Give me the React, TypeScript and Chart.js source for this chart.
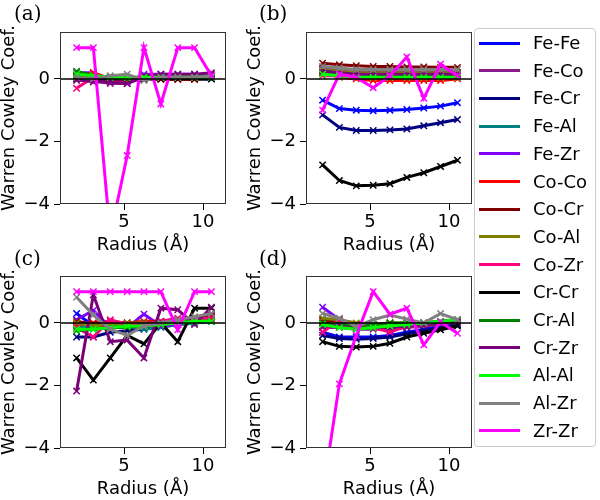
import React, { useEffect, useRef } from 'react';
import { Chart, registerables } from 'chart.js';

Chart.register(...registerables);

// Radii (Å) at which the Warren-Cowley coefficients are evaluated
const radii = [2.0, 3.06, 4.13, 5.2, 6.26, 7.33, 8.4, 9.46, 10.53];

const seriesNames = [
  'Fe-Fe', 'Fe-Co', 'Fe-Cr', 'Fe-Al', 'Fe-Zr',
  'Co-Co', 'Co-Cr', 'Co-Al', 'Co-Zr',
  'Cr-Cr', 'Cr-Al', 'Cr-Zr',
  'Al-Al', 'Al-Zr', 'Zr-Zr',
];

const seriesColors = [
  '#0000ff', '#8b1c8b', '#000080', '#008080', '#7f00ff',
  '#ff0000', '#800000', '#808000', '#ff007f',
  '#000000', '#008000', '#7a007a',
  '#00ff00', '#808080', '#ff00ff',
];

// Panel (a) — rows follow seriesNames order
const panelA: number[][] = [
  [0.1, 0.1, 0.05, 0.0, 0.05, 0.05, 0.05, 0.05, 0.05],
  [-0.05, -0.05, -0.15, -0.15, 0.05, 0.1, 0.1, 0.1, 0.15],
  [0.05, 0.0, 0.0, -0.05, 0.0, 0.0, 0.0, 0.0, 0.0],
  [0.1, 0.05, 0.0, 0.0, 0.0, 0.0, 0.05, 0.05, 0.05],
  [0.2, 0.2, -0.1, -0.1, 0.15, 0.15, 0.15, 0.15, 0.0],
  [0.05, 0.2, 0.0, 0.0, -0.02, -0.02, -0.02, -0.02, 0.05],
  [0.1, 0.05, 0.05, 0.0, 0.0, 0.05, 0.1, 0.1, 0.1],
  [0.15, 0.1, 0.05, 0.05, 0.05, 0.05, 0.05, 0.05, 0.05],
  [-0.3, 0.05, -0.05, -0.05, 0.0, 0.0, 0.05, 0.05, 0.1],
  [0.0, 0.0, 0.0, 0.0, 0.0, 0.0, 0.0, 0.0, 0.0],
  [0.25, 0.1, 0.05, 0.0, 0.05, 0.05, 0.05, 0.05, 0.1],
  [0.0, -0.1, -0.1, -0.15, 0.1, 0.15, 0.15, 0.15, 0.2],
  [0.15, 0.1, 0.05, 0.05, 0.05, 0.05, 0.05, 0.05, 0.05],
  [0.05, 0.0, 0.1, 0.15, -0.05, 0.05, 0.05, 0.05, 0.1],
  [1.0, 1.0, -5.0, -2.45, 1.0, -0.8, 1.0, 1.0, 0.1],
];

// Panel (b)
const panelB: number[][] = [
  [-0.68, -0.95, -1.0, -1.02, -1.0, -0.98, -0.93, -0.87, -0.76],
  [0.3, 0.25, 0.2, 0.2, 0.2, 0.2, 0.2, 0.2, 0.2],
  [-1.15, -1.55, -1.65, -1.65, -1.63, -1.6, -1.5, -1.4, -1.3],
  [0.2, 0.15, 0.1, 0.1, 0.1, 0.1, 0.1, 0.1, 0.1],
  [0.35, 0.25, 0.2, 0.2, 0.2, 0.2, 0.2, 0.2, 0.2],
  [0.2, 0.05, 0.0, -0.05, -0.05, -0.05, -0.05, -0.05, 0.0],
  [0.5, 0.45, 0.42, 0.4, 0.4, 0.38, 0.38, 0.37, 0.37],
  [0.3, 0.25, 0.2, 0.2, 0.2, 0.2, 0.2, 0.2, 0.2],
  [0.1, 0.1, 0.05, 0.05, 0.05, 0.05, 0.05, 0.05, 0.05],
  [-2.75, -3.25, -3.42, -3.4, -3.35, -3.15, -3.0, -2.8, -2.6],
  [0.25, 0.15, 0.1, 0.1, 0.1, 0.1, 0.1, 0.1, 0.1],
  [0.25, 0.2, 0.15, 0.15, 0.15, 0.15, 0.15, 0.15, 0.15],
  [0.15, 0.1, 0.05, 0.05, 0.05, 0.05, 0.05, 0.05, 0.05],
  [0.4, 0.35, 0.3, 0.3, 0.3, 0.3, 0.3, 0.3, 0.3],
  [-1.0, 0.15, 0.05, -0.28, 0.1, 0.7, -0.62, 0.47, 0.1],
];

// Panel (c)
const panelC: number[][] = [
  [0.3, -0.1, -0.1, -0.15, -0.15, -0.1, -0.05, 0.05, 0.1],
  [0.0, 0.0, 0.05, 0.0, 0.0, 0.05, 0.1, 0.15, 0.25],
  [-0.45, -0.45, -0.3, -0.25, -0.2, -0.1, -0.05, 0.0, 0.05],
  [-0.1, -0.15, -0.1, -0.1, -0.2, -0.15, -0.05, 0.0, 0.05],
  [0.1, 0.4, -0.15, -0.15, 0.28, -0.1, -0.05, 0.15, 0.3],
  [-0.05, 0.0, 0.0, 0.0, 0.05, 0.05, 0.1, 0.15, 0.2],
  [0.05, -0.05, -0.05, 0.0, 0.0, 0.05, 0.1, 0.15, 0.2],
  [0.0, -0.1, -0.05, 0.0, 0.0, 0.0, 0.05, 0.1, 0.1],
  [-0.15, -0.45, 0.1, -0.05, -0.05, 0.05, 0.15, 0.15, 0.15],
  [-1.12, -1.83, -1.12, -0.4, -0.67, 0.0, -0.6, 0.47, 0.47],
  [-0.25, -0.2, -0.15, -0.15, -0.1, -0.05, 0.0, 0.05, 0.05],
  [-2.18, 0.9, -0.6, -0.55, -1.12, 0.47, 0.42, -0.05, 0.5],
  [-0.2, -0.2, -0.15, -0.1, -0.1, -0.05, 0.0, 0.05, 0.05],
  [0.82, 0.25, -0.2, -0.4, -0.1, 0.0, 0.1, 0.2, 0.3],
  [1.0, 1.0, 1.0, 1.0, 1.0, 1.0, -0.22, 1.0, 1.0],
];

// Panel (d)
const panelD: number[][] = [
  [-0.3, -0.45, -0.45, -0.45, -0.4, -0.3, -0.2, -0.1, -0.05],
  [-0.15, -0.15, -0.2, -0.2, -0.2, -0.15, -0.1, -0.05, 0.0],
  [-0.4, -0.5, -0.52, -0.5, -0.45, -0.35, -0.25, -0.15, -0.05],
  [0.0, -0.1, -0.15, -0.1, -0.1, -0.05, 0.0, 0.0, 0.05],
  [0.5, 0.1, -0.1, -0.1, -0.05, 0.0, 0.0, 0.05, 0.1],
  [0.05, 0.1, -0.05, -0.1, 0.0, -0.05, 0.0, 0.0, 0.05],
  [0.1, 0.05, -0.05, -0.05, 0.0, -0.05, -0.05, 0.0, 0.05],
  [0.15, 0.1, 0.0, -0.05, 0.0, 0.0, 0.0, 0.05, 0.05],
  [-0.3, 0.1, -0.1, -0.15, -0.3, -0.1, -0.05, 0.0, 0.05],
  [-0.6, -0.75, -0.77, -0.75, -0.65, -0.45, -0.33, -0.22, -0.1],
  [0.0, -0.05, -0.1, -0.05, 0.0, 0.0, 0.0, 0.05, 0.1],
  [-0.1, -0.1, -0.2, -0.15, -0.15, -0.1, -0.05, 0.0, 0.05],
  [-0.05, -0.15, -0.2, -0.15, -0.1, -0.05, 0.0, 0.05, 0.1],
  [0.3, 0.15, -0.12, 0.1, 0.25, 0.12, 0.0, 0.3, 0.1],
  [-5.5, -1.95, -0.4, 1.0, 0.28, 0.47, -0.7, 0.03, -0.33],
];

const xTicks = [5, 10];
const yTicks = [-4, -2, 0];
const panelLabels = ['(a)', '(b)', '(c)', '(d)'];
const xTitle = 'Radius (Å)';
const yTitle = 'Warren Cowley Coef.';

const SANS = "'DejaVu Sans', sans-serif";

const framePlugin = {
  id: 'frameAndZero',
  afterDatasetsDraw(chart: any) {
    const { ctx, chartArea: a, scales } = chart;
    const y0 = scales.y.getPixelForValue(0);
    ctx.save();
    ctx.strokeStyle = '#000';
    ctx.lineWidth = 1.5;
    ctx.beginPath();
    ctx.moveTo(a.left, y0);
    ctx.lineTo(a.right, y0);
    ctx.stroke();
    ctx.strokeStyle = '#333';
    ctx.lineWidth = 1;
    ctx.strokeRect(a.left + 0.5, a.top + 0.5, a.right - a.left - 1, a.bottom - a.top - 1);
    ctx.restore();
  },
};

const fmt = (v: number) => (v < 0 ? '\u2212' + Math.abs(v) : String(v));

function Panel({ data, left, top }: { data: number[][]; left: number; top: number }) {
  const ref = useRef<HTMLCanvasElement>(null);
  useEffect(() => {
    if (!ref.current) return;
    const n = seriesNames.length;
    const chart = new Chart(ref.current, {
      type: 'line',
      data: {
        datasets: seriesNames.map((name, i) => ({
          label: name,
          data: radii.map((r, k) => ({ x: r, y: data[i][k] })),
          borderColor: seriesColors[i],
          backgroundColor: seriesColors[i],
          borderWidth: 3,
          pointStyle: 'crossRot',
          pointRadius: 4.5,
          pointBorderWidth: 1.5,
          pointBorderColor: seriesColors[i],
          tension: 0,
          fill: false,
          order: n - 1 - i,
        })),
      },
      options: {
        responsive: false,
        animation: false,
        events: [],
        layout: { padding: { top: 32, right: 20, left: 0, bottom: 0 } },
        plugins: { legend: { display: false }, tooltip: { enabled: false } },
        scales: {
          x: {
            type: 'linear',
            min: 0.95,
            max: 11.45,
            afterBuildTicks: (s: any) => {
              s.ticks = xTicks.map((v) => ({ value: v }));
            },
            afterFit: (s: any) => {
              s.height = 50;
            },
            grid: { display: true, drawOnChartArea: false, drawTicks: true, tickLength: 6, color: '#000' },
            border: { display: false },
            ticks: {
              font: { family: SANS, size: 18 },
              color: '#000',
              padding: 2,
              maxRotation: 0,
              autoSkip: false,
              callback: (v: any) => fmt(Number(v)),
            },
            title: {
              display: true,
              text: xTitle,
              color: '#000',
              font: { family: SANS, size: 18, lineHeight: 1 },
              padding: 0,
            },
          },
          y: {
            type: 'linear',
            min: -4,
            max: 1.5,
            afterBuildTicks: (s: any) => {
              s.ticks = yTicks.map((v) => ({ value: v }));
            },
            afterFit: (s: any) => {
              s.width = 60;
            },
            grid: { display: true, drawOnChartArea: false, drawTicks: true, tickLength: 6, color: '#000' },
            border: { display: false },
            ticks: {
              font: { family: SANS, size: 18 },
              color: '#000',
              padding: 4,
              autoSkip: false,
              callback: (v: any) => fmt(Number(v)),
            },
            title: {
              display: true,
              text: yTitle,
              color: '#000',
              font: { family: SANS, size: 18, lineHeight: 1 },
              padding: 0,
            },
          },
        },
      } as any,
      plugins: [framePlugin],
    });
    return () => chart.destroy();
  }, [data]);
  return (
    <canvas
      ref={ref}
      width={246}
      height={254}
      style={{ position: 'absolute', left, top, width: 246, height: 254 }}
    />
  );
}

const panels = [
  { data: panelA, left: 0, top: 0 },
  { data: panelB, left: 246, top: 0 },
  { data: panelC, left: 0, top: 244 },
  { data: panelD, left: 246, top: 244 },
];

export default function App() {
  return (
    <div
      style={{
        position: 'absolute',
        left: 0,
        top: 0,
        width: 600,
        height: 500,
        background: '#fff',
        overflow: 'hidden',
      }}
    >
      {panels.map((p, i) => (
        <Panel key={i} data={p.data} left={p.left} top={p.top} />
      ))}
      {panelLabels.map((lab, i) => (
        <div
          key={lab}
          style={{
            position: 'absolute',
            left: i % 2 === 0 ? 14 : 259,
            top: i < 2 ? 1 : 246,
            fontFamily: "'DejaVu Serif', serif",
            fontSize: 20,
            lineHeight: 'normal',
            color: '#000',
            whiteSpace: 'nowrap',
          }}
        >
          {lab}
        </div>
      ))}
      <div
        style={{
          position: 'absolute',
          left: 474,
          top: 28,
          width: 122,
          height: 419,
          border: '1px solid #cccccc',
          borderRadius: 4,
          background: 'rgba(255,255,255,0.8)',
          boxSizing: 'border-box',
        }}
      >
        {seriesNames.map((name, i) => (
          <div
            key={name}
            style={{
              position: 'absolute',
              left: 0,
              top: 14 + i * 27.7 - 11,
              height: 22,
              display: 'flex',
              alignItems: 'center',
              whiteSpace: 'nowrap',
            }}
          >
            <div
              style={{
                marginLeft: 4,
                width: 41,
                height: 3,
                background: seriesColors[i],
              }}
            />
            <span
              style={{
                marginLeft: 13,
                fontFamily: SANS,
                fontSize: 18,
                color: '#000',
                lineHeight: '22px',
              }}
            >
              {name}
            </span>
          </div>
        ))}
      </div>
    </div>
  );
}
